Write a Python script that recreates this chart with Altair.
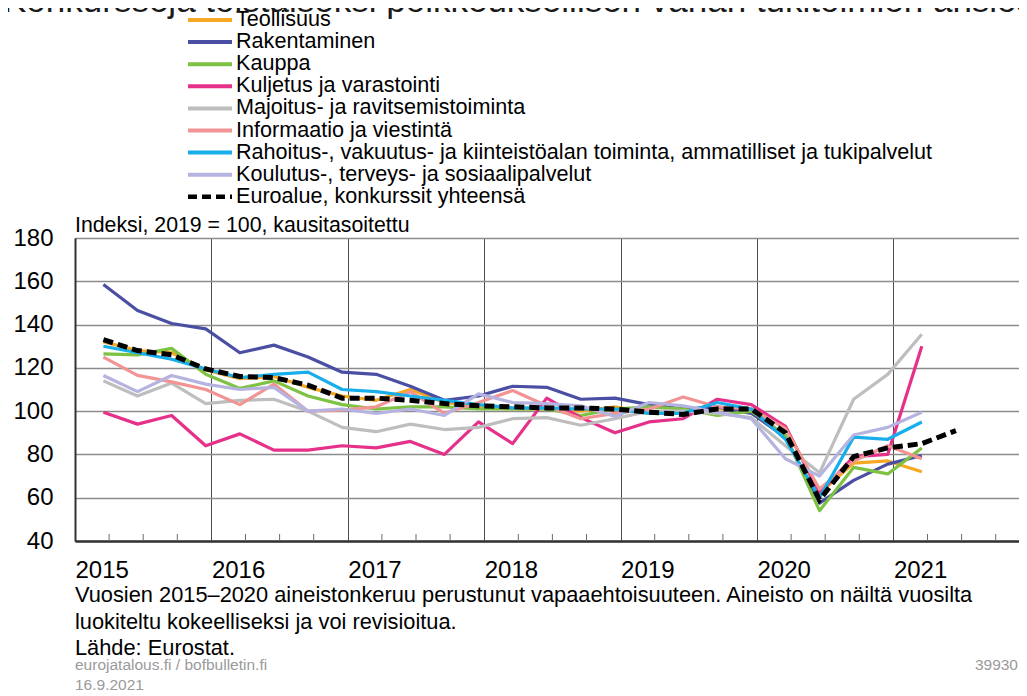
import altair as alt
import pandas as pd

FONT = "Liberation Sans, Arial, sans-serif"
W, H = 944, 303

# ---- data -------------------------------------------------------------
quarters = [f"{y}Q{q}" for y in range(2015, 2022) for q in range(1, 5)][:26]

sector_names = [
    "Teollisuus",
    "Rakentaminen",
    "Kauppa",
    "Kuljetus ja varastointi",
    "Majoitus- ja ravitsemistoiminta",
    "Informaatio ja viestintä",
    "Rahoitus-, vakuutus- ja kiinteistöalan toiminta, ammatilliset ja tukipalvelut",
    "Koulutus-, terveys- ja sosiaalipalvelut",
]
euro_name = "Euroalue, konkurssit yhteensä"

sector_colors = ["#F7A823", "#4B4FA3", "#7DC242", "#E5318A",
                 "#BEBEBE", "#F29494", "#18AEEA", "#B5B3E0"]
euro_color = "#000000"

teollisuus = [132, 128, 127, 119, 115, 116, 111, 107, 105, 110, 104, 102, 101,
              101, 100, 102, 99, 99, 101, 101, 93, 62, 76, 77, 72]
rakentaminen = [158.5, 146.5, 140.5, 138, 127, 130.5, 125, 118, 117, 111.5, 105,
                107, 111.5, 111, 105.5, 106, 103, 101, 102, 99, 88, 57.5, 68,
                75.5, 79.5]
kauppa = [126.5, 126, 129, 117, 110.5, 114, 107, 103, 101, 102, 102, 101, 101,
          101, 98, 101, 102, 101, 98, 100, 89, 54, 74, 71, 83]
kuljetus = [99.5, 94, 98, 84, 89.5, 82, 82, 84, 83, 86, 80, 95, 85, 106, 97, 90,
            95, 96.5, 105.5, 103, 93, 62, 79, 80, 130]
majoitus = [114, 107, 113, 103.5, 105, 105.5, 100, 92.5, 90.5, 94, 91.5, 92.5,
            96.5, 97, 93.5, 96.5, 100, 100, 99, 97, 84, 71.5, 105.5, 117, 135.5]
informaatio = [125, 116.5, 113.5, 110, 103, 112.5, 100, 100.5, 102, 109, 99, 104,
               109.5, 102.5, 96.5, 99, 101, 106.5, 102, 101, 92, 64, 77, 84, 78]
rahoitus = [130, 127, 124, 119.5, 115.5, 117, 118, 110, 109, 107, 105, 103,
            101.5, 101.5, 101, 101, 99, 99, 104, 101, 87, 60, 88, 87, 95]
koulutus = [116.5, 109, 116.5, 112.5, 110, 111, 100, 101, 99, 101, 98, 108, 104,
            103.5, 102.5, 97.5, 104, 102.5, 99.5, 96.5, 78, 70, 89, 92.5, 99.5]
euroalue = [133, 128, 126, 119.5, 116, 115.5, 112, 106, 106, 105, 103.5, 102.5,
            102, 101.5, 101.5, 101, 99.5, 98.5, 101, 101, 90, 59, 79, 83, 85, 91]

year_labels = [2015, 2016, 2017, 2018, 2019, 2020, 2021]
y_ticks = [40, 60, 80, 100, 120, 140, 160, 180]

title_text = "Konkursseja toistaiseksi poikkeuksellisen vähän tukitoimien ansiosta"
subtitle_text = "Indeksi, 2019 = 100, kausitasoitettu"
note_lines = [
    "Vuosien 2015–2020 aineistonkeruu perustunut vapaaehtoisuuteen. Aineisto on näiltä vuosilta",
    "luokiteltu kokeelliseksi ja voi revisioitua.",
    "Lähde: Eurostat.",
]
footer_left = ["eurojatalous.fi  / bofbulletin.fi", "16.9.2021"]
footer_right = "39930"


def q_to_t(label):
    # observation plotted in the middle of the quarter's last month
    y, q = int(label[:4]), int(label[-1])
    return y + (3 * q - 0.5) / 12


rows = []
for name, vals in zip(sector_names, [teollisuus, rakentaminen, kauppa, kuljetus,
                                     majoitus, informaatio, rahoitus, koulutus]):
    for ql, v in zip(quarters, vals):
        rows.append({"series": name, "q": ql, "t": q_to_t(ql), "v": v})
df_sec = pd.DataFrame(rows)
df_euro = pd.DataFrame({"series": euro_name, "q": quarters,
                        "t": [q_to_t(q) for q in quarters], "v": euroalue})

quarter_ticks = pd.DataFrame({"t": [y + k / 4 for y in year_labels for k in (1, 2, 3)]})

all_names = sector_names + [euro_name]
all_colors = sector_colors + [euro_color]
cscale = alt.Scale(domain=all_names, range=all_colors)

xs = alt.Scale(domain=[2015, 2015 + W / 136.4], nice=False, zero=False)
ys = alt.Scale(domain=[40, 180], nice=False, zero=False)

xaxis = alt.Axis(values=year_labels, format="d", grid=True, gridColor="#4d4d4d",
                 gridWidth=1, ticks=False, labelAlign="left",
                 labelFontSize=24, labelPadding=17, labelColor="black",
                 labelFont=FONT, labelFlush=False, domainColor="#333333",
                 domainWidth=2.5, title=None)
yaxis = alt.Axis(values=y_ticks, grid=True, gridColor="#8c8c8c", gridWidth=1.5,
                 ticks=False, labelFontSize=24, labelPadding=22,
                 labelColor="black", labelFont=FONT, domainColor="#333333",
                 domainWidth=2, title=None)

lines = alt.Chart(df_sec).mark_line(strokeWidth=3.2, strokeJoin="round").encode(
    x=alt.X("t:Q", scale=xs, axis=xaxis, title=None),
    y=alt.Y("v:Q", scale=ys, axis=yaxis, title=None),
    color=alt.Color("series:N", scale=cscale, legend=None),
    detail="series:N",
)

euro = alt.Chart(df_euro).mark_line(strokeWidth=5, strokeDash=[10, 5],
                                    color=euro_color).encode(
    x=alt.X("t:Q", title=None),
    y=alt.Y("v:Q", title=None),
)

qticks = alt.Chart(quarter_ticks).mark_rule(color="#6b6b6b", strokeWidth=1).encode(
    x=alt.X("t:Q", title=None),
    y=alt.value(H),
    y2=alt.value(H - 7),
)

# ---- manual legend ------------------------------------------------------
LEG_Y0, LEG_DY = -218, 22.1
leg_df = pd.DataFrame({"series": all_names, "i": list(range(len(all_names)))})
leg_base = alt.Chart(leg_df).transform_calculate(
    ly=f"{LEG_Y0} + {LEG_DY} * datum.i")
leg_lines = leg_base.transform_filter("datum.i < 8").mark_rule(strokeWidth=4).encode(
    x=alt.value(113), x2=alt.value(157),
    y=alt.Y("ly:Q", scale=None),
    color=alt.Color("series:N", scale=cscale, legend=None),
)
leg_euro = leg_base.transform_filter("datum.i == 8").mark_rule(
    strokeWidth=4.5, strokeDash=[9, 5], color=euro_color).encode(
    x=alt.value(113), x2=alt.value(157),
    y=alt.Y("ly:Q", scale=None),
)
leg_text = leg_base.mark_text(align="left", baseline="middle", fontSize=21.6,
                              font=FONT, color="black").encode(
    x=alt.value(161),
    y=alt.Y("ly:Q", scale=None),
    text="series:N",
)


def label(s, x, y, size, color="black", align="left", baseline="alphabetic"):
    return alt.Chart(pd.DataFrame({"s": [s]})).mark_text(
        align=align, baseline=baseline, fontSize=size, font=FONT, color=color
    ).encode(text="s:N", x=alt.value(x), y=alt.value(y))


texts = [
    label(title_text, -72, -226.5, 35, color="#1a1a1a"),
    label(subtitle_text, 0, -6, 21.3),
    label(note_lines[0], 0, 364, 21.8),
    label(note_lines[1], 0, 391, 21.8),
    label(note_lines[2], 0, 417, 21.8),
    label(footer_left[0], 0, 432, 15.5, color="#9a9a9a"),
    label(footer_left[1], 0, 452, 15.5, color="#9a9a9a"),
    label(footer_right, 943, 432, 15.5, color="#9a9a9a", align="right"),
]

chart = alt.layer(
    lines, euro, qticks, leg_lines, leg_euro, leg_text, *texts
).properties(
    width=W, height=H,
    padding={"left": 67, "top": 230, "right": 0, "bottom": 152},
    autosize=alt.AutoSizeParams(type="none"),
).configure_view(stroke=None).configure(font=FONT)

chart.save("out.html", embed_options={"renderer": "svg", "actions": False})
